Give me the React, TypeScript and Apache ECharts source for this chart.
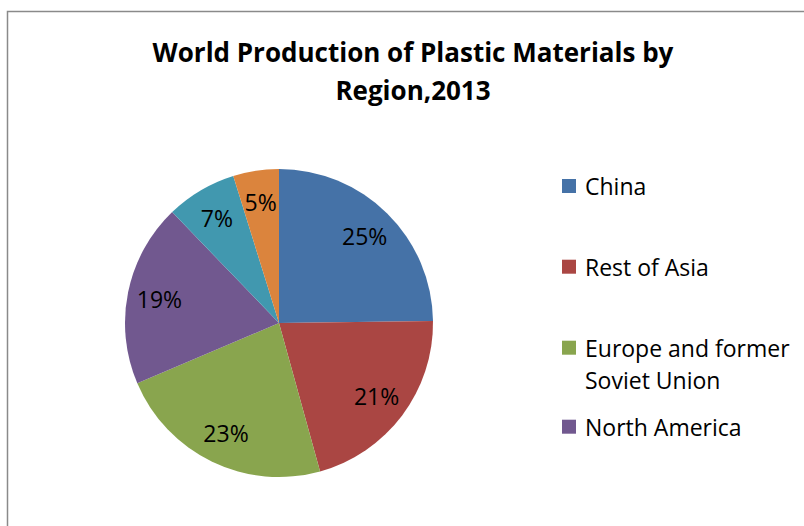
import React, { useEffect, useRef } from "react";
import * as echarts from "echarts";

const regions = [
  "China",
  "Rest of Asia",
  "Europe and former Soviet Union",
  "North America",
  "Middle East, Africa",
  "Latin America",
];
const shares = [24.8, 20.9, 22.9, 19.2, 7.4, 4.8];
const sliceColors = ["#4572A7", "#AA4643", "#89A54E", "#71588F", "#4198AF", "#DB843D"];
const legendNames = ["China", "Rest of Asia", "Europe and former Soviet Union", "North America"];
const legendLabels = ["China", "Rest of Asia", "\nEurope and former\nSoviet Union", "North America"];
const titleText = "World Production of Plastic Materials by\nRegion,2013";

const FONT = "'Open Sans'";

export default function App() {
  const ref = useRef<HTMLDivElement>(null);
  useEffect(() => {
    if (!ref.current) return;
    const chart = echarts.init(ref.current, null, { renderer: "svg" });
    const data = regions.map((name, i) => ({
      name,
      value: shares[i],
      itemStyle: { color: sliceColors[i] },
    }));
    const legendTops = [170, 250.7, 299.7, 410.7];
    const legends = legendNames.map((name, i) => ({
      show: true,
      orient: "vertical",
      left: 562,
      top: legendTops[i],
      padding: 0,
      itemWidth: 14,
      itemHeight: 14,
      icon: "rect",
      selectedMode: false,
      data: [name],
      formatter: () => legendLabels[i],
      textStyle: {
        fontFamily: FONT,
        fontSize: 23,
        color: "#000",
        lineHeight: 32,
        padding: [0, 0, 0, 4],
      },
    }));
    chart.setOption({
      animation: false,
      backgroundColor: "#fff",
      legend: legends,
      graphic: [
        {
          type: "rect",
          shape: { x: 7.5, y: 11.5, width: 900, height: 700 },
          style: { fill: "none", stroke: "#8a8a8a", lineWidth: 1.5 },
          silent: true,
        },
        {
          type: "text",
          x: 413,
          y: 33,
          style: {
            text: titleText,
            fontFamily: FONT,
            fontWeight: "bold",
            fontSize: 26,
            lineHeight: 37.7,
            fill: "#000",
            align: "center",
            verticalAlign: "top",
          },
        },
      ],
      series: [
        {
          type: "pie",
          center: [279, 323],
          radius: [0, 154],
          startAngle: 90,
          clockwise: true,
          data,
          label: { show: false },
          labelLine: { show: false },
          emphasis: { disabled: true },
          silent: true,
        },
        {
          type: "pie",
          center: [279, 323],
          radius: [84, 154],
          startAngle: 90,
          clockwise: true,
          data: data.map((d) => ({ ...d, itemStyle: { color: "rgba(0,0,0,0)" } })),
          label: {
            show: true,
            position: "inside",
            formatter: (p: any) => Math.round(p.value) + "%",
            fontFamily: FONT,
            fontSize: 23,
            color: "#000",
          },
          labelLine: { show: false },
          emphasis: { disabled: true },
          silent: true,
          z: 3,
        },
      ],
    });
    return () => chart.dispose();
  }, []);
  return (
    <div
      ref={ref}
      style={{ position: "absolute", left: 0, top: 0, width: 804, height: 526 }}
    />
  );
}
